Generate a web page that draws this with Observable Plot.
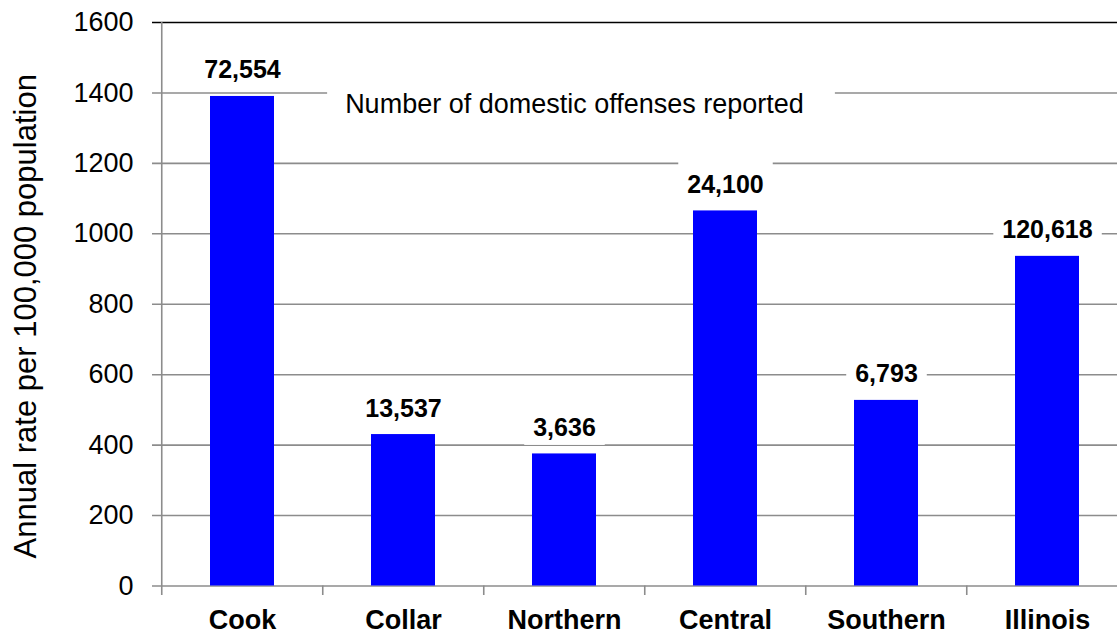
<!DOCTYPE html>
<html><head><meta charset="utf-8">
<script src="https://cdn.jsdelivr.net/npm/d3@7"></script>
<script src="https://cdn.jsdelivr.net/npm/@observablehq/plot@0.6"></script>
<style>html,body{margin:0;padding:0;background:#fff;overflow:hidden} svg{display:block}</style>
</head><body><div id="chart"></div>
<script>
const regions = ["Cook", "Collar", "Northern", "Central", "Southern", "Illinois"];
const rates = [1390, 430, 375, 1065, 527, 936];
const offenses = [72554, 13537, 3636, 24100, 6793, 120618];
const yTicks = [0, 200, 400, 600, 800, 1000, 1200, 1400, 1600];
const yTitle = "Annual rate per 100,000 population";
const note = "Number of domestic offenses reported";

const data = regions.map((r, i) => ({region: r, rate: rates[i], count: offenses[i]}));
const W = 1117, H = 633, X0 = 160, X1 = 1129, n = regions.length, step = (X1 - X0) / n;
const font = '"Liberation Sans", Arial, sans-serif';
const grid = "#8c8c8c";

const chart = Plot.plot({
  width: W, height: H,
  marginTop: 22, marginBottom: 47.5, marginLeft: 160, marginRight: 0,
  style: {fontFamily: font, background: "white", color: "black", overflow: "hidden"},
  x: {domain: regions, range: [X0, X1], paddingInner: 0.6, paddingOuter: 0.3, axis: null},
  y: {domain: [0, 1600], axis: null},
  marks: [
    Plot.ruleY(yTicks.filter(v => v < 1600), {y: d => d, stroke: grid, strokeWidth: 1.6, insetLeft: -8}),
    Plot.ruleY(yTicks.filter(v => v === 1600), {y: d => d, stroke: "black", strokeWidth: 1.6, insetLeft: -8}),
    Plot.ruleX(regions, {x: d => d, dx: -step / 2, y1: -27, y2: (d, i) => i === 0 ? 1600 : 0, stroke: grid, strokeWidth: 1.6}),
    Plot.barY(data, {x: "region", y: "rate", fill: "#0000ff"}),
    Plot.text(data, {x: "region", y: "rate", text: d => d.count.toLocaleString("en-US"), dy: -26,
      fontSize: 25, fontWeight: "bold", fill: "black", ariaDescription: "value-labels"}),
    Plot.text([note], {x: () => "Northern", y: () => 1400, text: d => d, dx: 10, dy: 11,
      fontSize: 27, fill: "black", ariaDescription: "note-label"}),
    Plot.text(regions, {x: d => d, text: d => d, frameAnchor: "bottom", lineAnchor: "top", dy: 24,
      fontSize: 27, fontWeight: "bold", fill: "black"}),
    Plot.axisY(yTicks, {tickSize: 0, tickPadding: 27, fontSize: 27, tickFormat: d => String(d), label: null}),
    Plot.text([yTitle], {text: d => d, frameAnchor: "left", textAnchor: "middle", rotate: -90, dx: -134, dy: 12, fontSize: 31, fill: "black"})
  ]
});
document.getElementById("chart").append(chart);

function addBg(label, padL, padR, padT, padB) {
  const g = chart.querySelector(`g[aria-description="${label}"]`);
  if (!g) return;
  const sb = chart.getBoundingClientRect();
  const bg = document.createElementNS("http://www.w3.org/2000/svg", "g");
  g.querySelectorAll("text").forEach(t => {
    const b = t.getBoundingClientRect();
    const r = document.createElementNS("http://www.w3.org/2000/svg", "rect");
    r.setAttribute("x", b.left - sb.left - padL);
    r.setAttribute("y", b.top - sb.top - padT);
    r.setAttribute("width", b.width + padL + padR);
    r.setAttribute("height", b.height + padT + padB);
    r.setAttribute("fill", "white");
    r.setAttribute("stroke", "none");
    bg.appendChild(r);
  });
  g.parentNode.insertBefore(bg, g);
}
addBg("value-labels", 9, 9, 12, 4);
addBg("note-label", 18, 31, 2, 2);
</script>
</body></html>
